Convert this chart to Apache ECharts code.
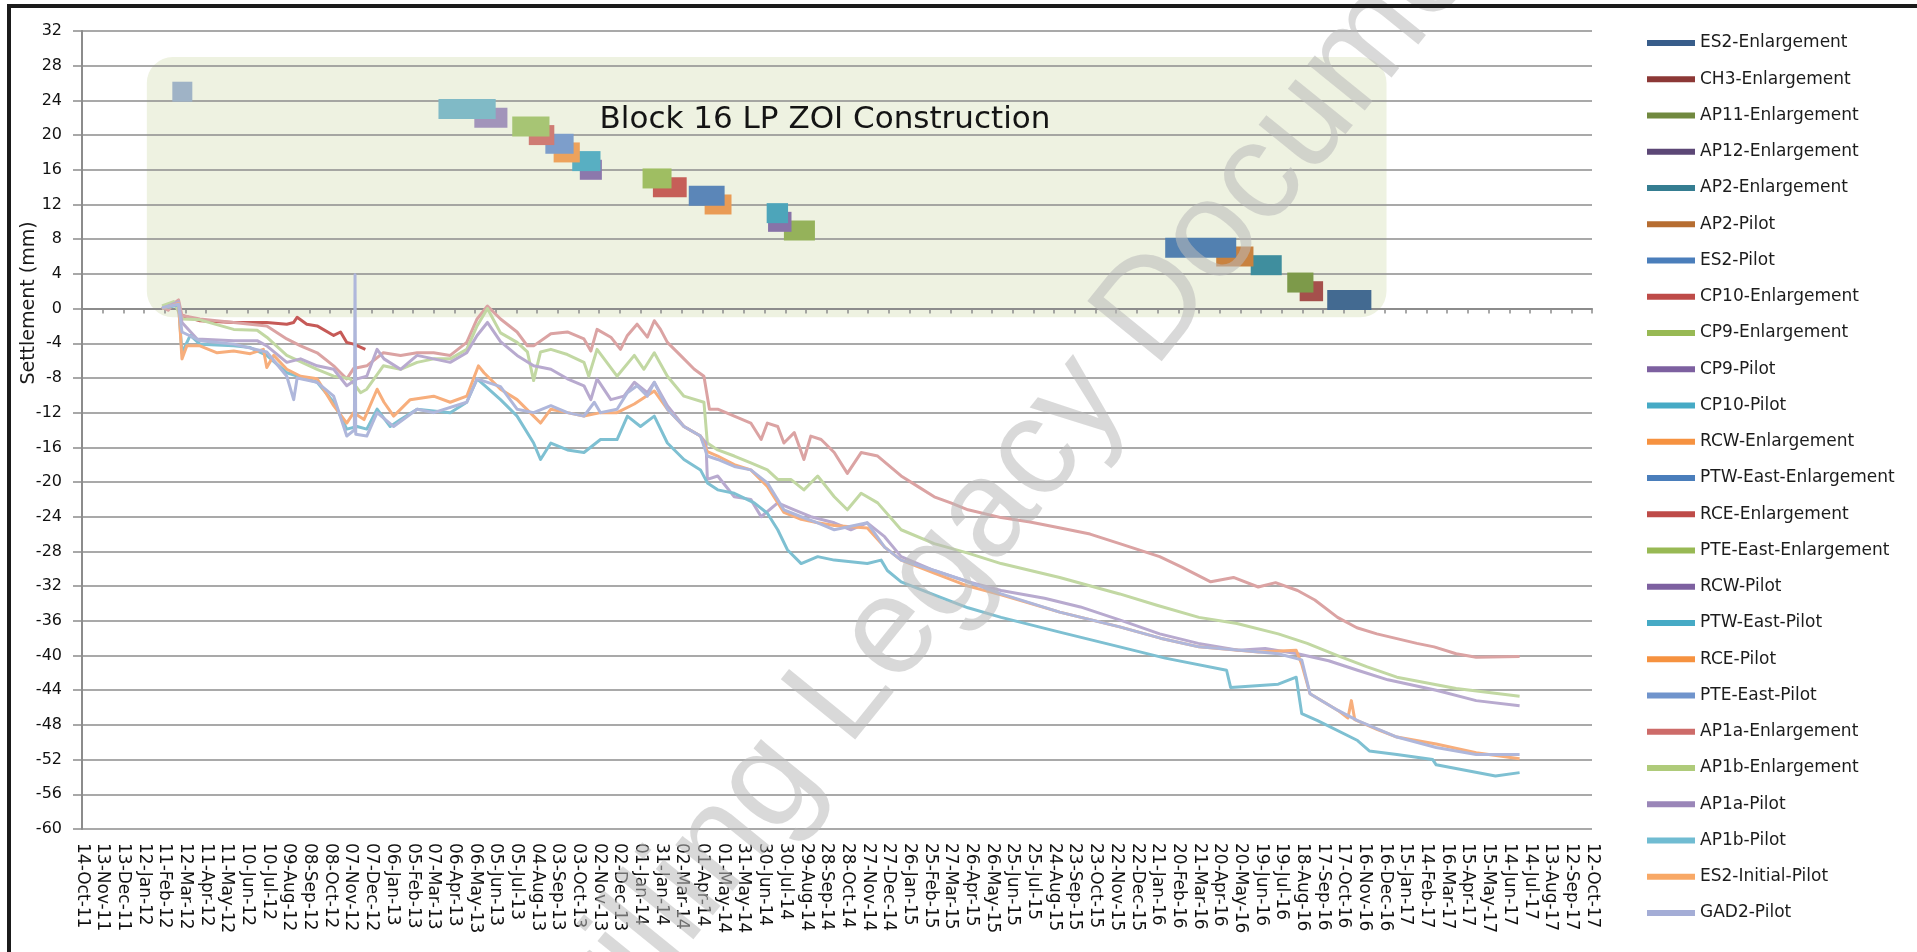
<!DOCTYPE html>
<html><head><meta charset="utf-8">
<script src="https://cdn.jsdelivr.net/npm/echarts@6/dist/echarts.min.js"></script>
<style>html,body{margin:0;padding:0;background:#fff}#chart{width:1917px;height:952px}</style>
</head><body><div id="chart"></div>
<script>
// ---------------- DATA ----------------
const seriesNames = ['ES2-Enlargement','CH3-Enlargement','AP11-Enlargement','AP12-Enlargement','AP2-Enlargement','AP2-Pilot','ES2-Pilot','CP10-Enlargement','CP9-Enlargement','CP9-Pilot','CP10-Pilot','RCW-Enlargement','PTW-East-Enlargement','RCE-Enlargement','PTE-East-Enlargement','RCW-Pilot','PTW-East-Pilot','RCE-Pilot','PTE-East-Pilot','AP1a-Enlargement','AP1b-Enlargement','AP1a-Pilot','AP1b-Pilot','ES2-Initial-Pilot','GAD2-Pilot'];

const xTickLabels = ['14-Oct-11','13-Nov-11','13-Dec-11','12-Jan-12','11-Feb-12','12-Mar-12','11-Apr-12','11-May-12','10-Jun-12','10-Jul-12','09-Aug-12','08-Sep-12','08-Oct-12','07-Nov-12','07-Dec-12','06-Jan-13','05-Feb-13','07-Mar-13','06-Apr-13','06-May-13','05-Jun-13','05-Jul-13','04-Aug-13','03-Sep-13','03-Oct-13','02-Nov-13','02-Dec-13','01-Jan-14','31-Jan-14','02-Mar-14','01-Apr-14','01-May-14','31-May-14','30-Jun-14','30-Jul-14','29-Aug-14','28-Sep-14','28-Oct-14','27-Nov-14','27-Dec-14','26-Jan-15','25-Feb-15','27-Mar-15','26-Apr-15','26-May-15','25-Jun-15','25-Jul-15','24-Aug-15','23-Sep-15','23-Oct-15','22-Nov-15','22-Dec-15','21-Jan-16','20-Feb-16','21-Mar-16','20-Apr-16','20-May-16','19-Jun-16','19-Jul-16','18-Aug-16','17-Sep-16','17-Oct-16','16-Nov-16','16-Dec-16','15-Jan-17','14-Feb-17','16-Mar-17','15-Apr-17','15-May-17','14-Jun-17','14-Jul-17','13-Aug-17','12-Sep-17','12-Oct-17'];

const yTicks = {min: -60, max: 32, step: 4};

// construction periods (one per series, null = none)
const blockStart = ['2016-09-23','2016-08-14','2016-07-27',null,'2016-06-04','2016-04-15','2016-02-01',null,'2014-07-28','2014-07-05','2014-07-03','2014-04-04','2014-03-12','2014-01-19','2014-01-04','2013-10-05','2013-09-24','2013-08-28','2013-08-16','2013-07-23','2013-06-29','2013-05-05','2013-03-14',null,'2012-02-22'];
const blockEnd   = ['2016-11-26','2016-09-17','2016-09-03',null,'2016-07-19','2016-06-08','2016-05-14',null,'2014-09-11','2014-08-08','2014-08-03','2014-05-13','2014-05-03','2014-03-09','2014-02-15','2013-11-06','2013-11-04','2013-10-05','2013-09-26','2013-08-29','2013-08-22','2013-06-22','2013-06-05',null,'2012-03-22'];
const blockLevel = [1,2,3,null,5,6,7,null,9,10,11,12,13,14,15,16,17,18,19,20,21,22,23,null,25];

// settlement readings [date, mm]
const ap1aEnlargement = [['2012-02-07',0.2],['2012-02-16',-0.2],['2012-02-24',0.6],['2012-03-02',1.0],['2012-03-07',-0.8],['2012-04-02',-1.2],['2012-05-21',-1.6],['2012-07-08',-2.0],['2012-08-06',-3.5],['2012-08-26',-4.3],['2012-09-19',-5.1],['2012-10-13',-6.6],['2012-10-23',-7.4],['2012-11-01',-8.1],['2012-11-11',-6.9],['2012-11-30',-6.6],['2012-12-24',-5.1],['2013-01-18',-5.4],['2013-02-11',-5.1],['2013-03-07',-5.1],['2013-03-31',-5.4],['2013-04-24',-3.9],['2013-05-09',-1.2],['2013-05-24',0.3],['2013-06-12',-1.2],['2013-07-06',-2.7],['2013-07-21',-4.3],['2013-07-30',-4.3],['2013-08-24',-2.9],['2013-09-17',-2.7],['2013-10-11',-3.5],['2013-10-21',-4.9],['2013-10-30',-2.4],['2013-11-19',-3.3],['2013-12-03',-4.7],['2013-12-13',-3.1],['2013-12-27',-1.8],['2014-01-11',-3.3],['2014-01-21',-1.4],['2014-01-30',-2.4],['2014-02-09',-3.9],['2014-02-28',-5.4],['2014-03-20',-7.0],['2014-04-03',-7.8],['2014-04-11',-11.6],['2014-04-23',-11.6],['2014-05-17',-12.4],['2014-06-10',-13.2],['2014-06-25',-15.1],['2014-07-04',-13.2],['2014-07-19',-13.6],['2014-07-28',-15.5],['2014-08-12',-14.3],['2014-08-26',-17.4],['2014-09-05',-14.7],['2014-09-20',-15.1],['2014-10-09',-16.6],['2014-10-28',-19.0],['2014-11-17',-16.6],['2014-12-11',-17.0],['2015-01-14',-19.3],['2015-02-07',-20.5],['2015-03-03',-21.7],['2015-03-27',-22.4],['2015-04-21',-23.2],['2015-06-08',-24.1],['2015-07-20',-24.6],['2015-09-02',-25.3],['2015-10-15',-26.0],['2015-11-27',-27.1],['2016-01-24',-28.6],['2016-02-25',-29.8],['2016-04-07',-31.5],['2016-05-10',-31.0],['2016-06-15',-32.1],['2016-07-10',-31.6],['2016-08-11',-32.5],['2016-09-05',-33.6],['2016-10-08',-35.6],['2016-11-05',-36.8],['2016-12-04',-37.5],['2017-01-31',-38.6],['2017-02-25',-39.0],['2017-03-29',-39.8],['2017-04-27',-40.2],['2017-06-29',-40.1]];

const ap1bEnlargement = [['2012-02-07',0.3],['2012-02-24',0.8],['2012-03-07',-1.2],['2012-04-02',-1.3],['2012-05-21',-2.4],['2012-06-24',-2.5],['2012-07-08',-3.3],['2012-08-06',-5.4],['2012-09-19',-7.0],['2012-10-13',-7.8],['2012-11-06',-8.1],['2012-11-21',-9.7],['2012-11-30',-9.3],['2012-12-24',-6.6],['2013-01-18',-7.0],['2013-02-11',-6.2],['2013-03-07',-5.8],['2013-03-31',-5.8],['2013-04-24',-4.7],['2013-05-09',-2.0],['2013-05-24',0.0],['2013-06-12',-2.8],['2013-07-06',-3.9],['2013-07-21',-5.0],['2013-07-30',-8.3],['2013-08-09',-5.0],['2013-08-24',-4.7],['2013-09-17',-5.3],['2013-10-11',-6.2],['2013-10-18',-7.8],['2013-10-30',-4.7],['2013-11-28',-7.8],['2013-12-23',-5.4],['2014-01-06',-7.0],['2014-01-21',-5.1],['2014-02-09',-7.8],['2014-03-05',-10.1],['2014-04-03',-10.8],['2014-04-08',-15.5],['2014-04-23',-16.3],['2014-05-17',-17.0],['2014-06-10',-17.8],['2014-07-04',-18.6],['2014-07-19',-19.7],['2014-08-07',-19.7],['2014-08-26',-20.9],['2014-09-15',-19.3],['2014-10-09',-21.7],['2014-10-28',-23.2],['2014-11-17',-21.3],['2014-12-11',-22.4],['2015-01-14',-25.5],['2015-03-03',-27.1],['2015-04-21',-28.2],['2015-06-08',-29.4],['2015-09-01',-31.0],['2015-11-27',-32.9],['2016-01-20',-34.2],['2016-03-21',-35.6],['2016-05-15',-36.3],['2016-07-14',-37.5],['2016-08-25',-38.6],['2016-10-08',-40.0],['2016-11-20',-41.3],['2017-01-02',-42.5],['2017-03-29',-43.8],['2017-06-29',-44.7]];

const ap1aPilot = [['2012-02-07',0.0],['2012-03-02',0.8],['2012-03-07',-1.6],['2012-03-29',-3.5],['2012-05-21',-3.7],['2012-06-24',-3.7],['2012-07-08',-4.3],['2012-08-06',-6.2],['2012-08-26',-5.8],['2012-09-19',-6.6],['2012-10-13',-7.0],['2012-11-01',-8.9],['2012-11-16',-8.1],['2012-11-30',-7.8],['2012-12-15',-4.7],['2012-12-25',-5.8],['2013-01-18',-7.0],['2013-02-11',-5.4],['2013-03-07',-5.8],['2013-03-31',-6.2],['2013-04-24',-5.1],['2013-05-09',-3.1],['2013-05-24',-1.6],['2013-06-12',-3.8],['2013-07-06',-5.4],['2013-07-30',-6.6],['2013-08-24',-7.0],['2013-09-17',-8.1],['2013-10-11',-8.9],['2013-10-21',-10.5],['2013-10-30',-8.1],['2013-11-19',-10.5],['2013-12-08',-10.1],['2013-12-23',-8.5],['2014-01-11',-9.7],['2014-01-21',-8.5],['2014-02-09',-11.2],['2014-03-05',-13.6],['2014-03-29',-14.7],['2014-04-06',-15.5],['2014-04-08',-19.7],['2014-04-23',-19.3],['2014-05-17',-21.7],['2014-06-10',-22.0],['2014-06-25',-24.0],['2014-07-19',-22.4],['2014-08-12',-23.2],['2014-09-05',-24.0],['2014-10-09',-24.7],['2014-11-02',-25.5],['2014-11-26',-24.7],['2014-12-21',-26.3],['2015-01-14',-28.6],['2015-03-03',-30.2],['2015-04-21',-31.5],['2015-06-08',-32.5],['2015-08-10',-33.4],['2015-10-01',-34.4],['2015-12-01',-36.0],['2016-01-24',-37.5],['2016-03-20',-38.6],['2016-05-17',-39.4],['2016-06-25',-39.2],['2016-08-11',-39.8],['2016-09-25',-40.6],['2016-11-06',-41.7],['2016-12-20',-42.8],['2017-02-28',-44.0],['2017-04-27',-45.2],['2017-06-29',-45.8]];

const ap1bPilot = [['2012-02-07',0.0],['2012-03-02',0.4],['2012-03-07',-5.1],['2012-03-19',-3.1],['2012-04-02',-4.1],['2012-05-21',-4.3],['2012-06-14',-4.5],['2012-07-08',-5.4],['2012-08-06',-7.4],['2012-09-19',-8.5],['2012-10-13',-10.8],['2012-11-01',-13.9],['2012-11-16',-13.6],['2012-11-30',-13.9],['2012-12-15',-11.6],['2013-01-03',-13.6],['2013-01-18',-12.8],['2013-02-11',-11.6],['2013-03-31',-12.0],['2013-04-24',-10.8],['2013-05-09',-8.1],['2013-05-19',-8.8],['2013-06-12',-10.5],['2013-07-06',-12.4],['2013-07-30',-15.5],['2013-08-09',-17.4],['2013-08-24',-15.5],['2013-09-17',-16.3],['2013-10-11',-16.6],['2013-11-04',-15.1],['2013-11-28',-15.1],['2013-12-13',-12.4],['2014-01-01',-13.6],['2014-01-21',-12.4],['2014-02-09',-15.5],['2014-03-05',-17.4],['2014-03-29',-18.6],['2014-04-08',-20.1],['2014-04-23',-20.9],['2014-05-17',-21.3],['2014-06-15',-22.4],['2014-07-04',-23.6],['2014-07-19',-25.5],['2014-08-02',-27.8],['2014-08-22',-29.4],['2014-09-15',-28.6],['2014-10-09',-29.0],['2014-11-26',-29.4],['2014-12-16',-29.0],['2014-12-25',-30.2],['2015-01-14',-31.5],['2015-03-03',-33.0],['2015-04-21',-34.5],['2015-06-08',-35.6],['2015-09-01',-37.3],['2015-11-27',-39.0],['2016-02-01',-40.3],['2016-04-30',-41.7],['2016-05-06',-43.7],['2016-07-14',-43.3],['2016-08-09',-42.5],['2016-08-17',-46.7],['2016-09-09',-47.5],['2016-11-06',-49.8],['2016-11-23',-51.0],['2017-01-02',-51.4],['2017-02-23',-52.0],['2017-02-28',-52.6],['2017-05-25',-53.9],['2017-06-29',-53.5]];

const es2InitialPilot = [['2012-02-07',0.0],['2012-03-02',0.6],['2012-03-07',-5.8],['2012-03-14',-4.3],['2012-04-02',-4.3],['2012-04-27',-5.1],['2012-05-21',-4.9],['2012-06-14',-5.2],['2012-07-03',-4.7],['2012-07-08',-6.8],['2012-07-18',-5.4],['2012-08-06',-7.0],['2012-08-26',-7.8],['2012-09-19',-8.1],['2012-10-13',-11.2],['2012-11-01',-13.2],['2012-11-11',-12.0],['2012-11-26',-12.8],['2012-12-15',-9.3],['2012-12-25',-10.8],['2013-01-08',-12.4],['2013-02-01',-10.5],['2013-03-07',-10.1],['2013-03-31',-10.8],['2013-04-24',-10.1],['2013-05-11',-6.6],['2013-05-19',-7.4],['2013-06-12',-9.3],['2013-07-06',-10.5],['2013-07-30',-12.4],['2013-08-09',-13.2],['2013-08-24',-11.6],['2013-09-17',-12.0],['2013-10-11',-12.4],['2013-11-04',-12.0],['2013-11-28',-12.0],['2013-12-23',-11.0],['2014-01-21',-9.5],['2014-02-09',-11.6],['2014-03-05',-13.6],['2014-03-29',-14.7],['2014-04-08',-16.5],['2014-04-23',-17.0],['2014-05-17',-18.0],['2014-06-10',-18.6],['2014-07-04',-20.5],['2014-07-28',-23.5],['2014-08-22',-24.3],['2014-09-15',-24.7],['2014-10-09',-25.0],['2014-11-26',-25.3],['2014-12-21',-27.5],['2015-01-14',-29.0],['2015-03-03',-30.5],['2015-04-21',-32.0],['2015-06-08',-33.0],['2015-09-01',-35.0],['2015-11-27',-36.7],['2016-01-25',-38.0],['2016-03-21',-39.0],['2016-06-15',-39.6],['2016-08-09',-39.4],['2016-08-17',-41.0],['2016-08-29',-44.4],['2016-10-08',-46.3],['2016-10-23',-47.2],['2016-10-28',-45.2],['2016-11-02',-47.4],['2016-12-04',-48.5],['2017-01-02',-49.4],['2017-02-28',-50.2],['2017-04-27',-51.2],['2017-06-29',-51.9]];

const gad2Pilot = [['2012-02-07',0.1],['2012-03-02',0.5],['2012-03-07',-2.7],['2012-04-02',-3.7],['2012-05-21',-4.1],['2012-07-08',-5.0],['2012-08-06',-7.8],['2012-08-16',-10.5],['2012-08-21',-8.0],['2012-09-19',-8.5],['2012-10-13',-10.1],['2012-11-01',-14.7],['2012-11-12',-14.0],['2012-11-13',3.9],['2012-11-14',-14.5],['2012-11-30',-14.7],['2012-12-15',-12.0],['2013-01-08',-13.6],['2013-02-11',-11.6],['2013-03-07',-12.0],['2013-04-24',-10.8],['2013-05-09',-8.1],['2013-06-12',-9.0],['2013-07-06',-11.6],['2013-07-30',-12.0],['2013-08-24',-11.2],['2013-09-17',-12.0],['2013-10-11',-12.4],['2013-10-26',-10.8],['2013-11-04',-12.0],['2013-11-28',-11.6],['2013-12-13',-9.7],['2013-12-27',-8.9],['2014-01-11',-10.1],['2014-01-21',-8.5],['2014-02-09',-11.6],['2014-03-05',-13.6],['2014-03-29',-14.7],['2014-04-08',-17.0],['2014-04-23',-17.4],['2014-05-17',-18.2],['2014-06-10',-18.6],['2014-07-04',-20.1],['2014-07-28',-23.2],['2014-08-22',-24.0],['2014-09-15',-24.7],['2014-10-09',-25.5],['2014-11-26',-24.7],['2014-12-21',-27.5],['2015-01-14',-29.0],['2015-03-03',-30.2],['2015-04-21',-31.5],['2015-06-08',-32.9],['2015-09-01',-35.0],['2015-11-27',-36.7],['2016-01-25',-38.0],['2016-03-21',-39.0],['2016-05-20',-39.4],['2016-07-14',-39.8],['2016-08-17',-40.5],['2016-08-29',-44.4],['2016-10-08',-46.3],['2016-11-06',-47.5],['2017-01-02',-49.4],['2017-02-28',-50.6],['2017-04-27',-51.4],['2017-06-29',-51.4]];

const cp10Enlargement = [['2012-03-07',-0.8],['2012-04-02',-1.4],['2012-05-21',-1.6],['2012-07-08',-1.6],['2012-08-06',-1.8],['2012-08-16',-1.6],['2012-08-21',-1.0],['2012-09-04',-1.8],['2012-09-19',-2.0],['2012-10-13',-3.1],['2012-10-23',-2.7],['2012-11-01',-3.9],['2012-11-11',-4.1],['2012-11-28',-4.7]];

const settlementSeries = [
  ['CP10-Enlargement', cp10Enlargement],
  ['AP1a-Enlargement', ap1aEnlargement],
  ['AP1b-Enlargement', ap1bEnlargement],
  ['AP1a-Pilot', ap1aPilot],
  ['AP1b-Pilot', ap1bPilot],
  ['ES2-Initial-Pilot', es2InitialPilot],
  ['GAD2-Pilot', gad2Pilot]
];

// annotation box (data space)
const zoiBox = {from: '2012-01-16', to: '2016-12-18', top: 29, bottom: -1};

// ---------------- STYLE ----------------
const legendColors = ['#385D8A','#8C3836','#71893F','#5C4776','#357D91','#B66D31','#4A7EBB','#BE4B48','#98B954','#7D60A0','#46AAC5','#F69240','#4A7EBB','#BE4B48','#98B954','#7D60A0','#46AAC5','#F69240','#7094CC','#CD6B69','#AFCB7A','#9A86B8','#70BCD2','#F8A866','#A4ADD6'];
const blockColors = ['#436A91','#A5504C','#7D9A4A','#6A5A88','#3F8E9E','#C9823F','#5280B0','#C65F58','#95B25A','#8873A8','#4DA5BA','#E99B55','#5B86B8','#C65F58','#9FBE62','#8C78AC','#58AFC2','#EDA25C','#7D9ECB','#CF7C74','#A7C574','#A294BA','#80BAC6','#F2B07A','#9FB3C6'];
const lineColors = {'CP10-Enlargement':'#C65A57','AP1a-Enlargement':'#DBA3A3','AP1b-Enlargement':'#C2D8A3','AP1a-Pilot':'#B8AACF','AP1b-Pilot':'#7EC0D2','ES2-Initial-Pilot':'#F7AE7C','GAD2-Pilot':'#AFB7DB'};

const ORIGIN = Date.UTC(2011, 9, 14);
function d2x(s) { const p = s.split('-').map(Number); return (Date.UTC(p[0], p[1]-1, p[2]) - ORIGIN) / 864e5; }
const STEP = 30;
const XMAX = (xTickLabels.length - 1) * STEP;

const series = [];
settlementSeries.forEach(([name, arr]) => {
  series.push({
    name, type: 'line', symbol: 'none', silent: true, z: 2,
    data: arr.map(([d, v]) => [d2x(d), v]),
    lineStyle: {width: 3, color: lineColors[name], join: 'round'},
    itemStyle: {color: lineColors[name]}
  });
});
seriesNames.forEach((name, i) => {
  if (blockStart[i]) {
    series.push({
      name, type: 'line', symbol: 'none', silent: true, z: 3,
      data: [[d2x(blockStart[i]), blockLevel[i]], [d2x(blockEnd[i]), blockLevel[i]]],
      lineStyle: {width: 20, color: blockColors[i], cap: 'butt'},
      itemStyle: {color: legendColors[i]}
    });
  } else if (!settlementSeries.some(s => s[0] === name)) {
    series.push({name, type: 'line', symbol: 'none', data: []});
  }
});

const chart = echarts.init(document.getElementById('chart'));
const gridColor = '#8C8C8C';
chart.setOption({
  animation: false,
  backgroundColor: '#ffffff',
  grid: {left: 82, right: 325, top: 31, bottom: 123, containLabel: false},
  legend: {
    orient: 'vertical', left: 1642, top: 29, itemWidth: 48, itemHeight: 6, itemGap: 18.25,
    icon: 'rect', selectedMode: false,
    textStyle: {fontFamily: 'DejaVu Sans', fontSize: 17, color: '#1c1c1c', lineHeight: 18},
    data: seriesNames.map((n, i) => ({name: n, itemStyle: {color: legendColors[i], borderWidth: 0}}))
  },
  xAxis: [
    {type: 'value', min: 0, max: XMAX, interval: STEP, position: 'bottom',
     axisLine: {show: false, onZero: false}, axisTick: {show: false}, splitLine: {show: false},
     axisLabel: {rotate: -90, margin: 14, fontFamily: 'DejaVu Sans', fontSize: 17, color: '#111',
       formatter: v => xTickLabels[Math.round(v / STEP)] || ''}},
    {type: 'value', min: 0, max: XMAX, interval: STEP, position: 'bottom',
     axisLine: {show: true, onZero: true, lineStyle: {color: gridColor, width: 2}},
     axisTick: {show: true, length: 5, lineStyle: {color: gridColor, width: 1.5}},
     axisLabel: {show: false}, splitLine: {show: false}}
  ],
  yAxis: {
    type: 'value', min: yTicks.min, max: yTicks.max, interval: yTicks.step,
    axisLine: {show: true, onZero: false, lineStyle: {color: gridColor, width: 2}},
    axisTick: {show: true, length: 9, lineStyle: {color: gridColor, width: 1.5}},
    splitLine: {show: true, lineStyle: {color: gridColor, width: 1.6}},
    axisLabel: {margin: 20, fontFamily: 'DejaVu Sans', fontSize: 16, color: '#111'}
  },
  series
});

// decorations placed from data coordinates
const p1 = chart.convertToPixel({gridIndex: 0}, [d2x(zoiBox.from), zoiBox.top]);
const p2 = chart.convertToPixel({gridIndex: 0}, [d2x(zoiBox.to), zoiBox.bottom]);
chart.setOption({
  graphic: [
    {type: 'rect', z: -10, silent: true,
     shape: {x: p1[0], y: p1[1], width: p2[0] - p1[0], height: p2[1] - p1[1], r: 26},
     style: {fill: '#EEF2E1'}},
    {type: 'text', z: 50, x: 825, y: 120, silent: true,
     style: {text: 'Block 16 LP ZOI Construction', font: '31px "DejaVu Sans"', fill: '#141414', textAlign: 'center', textVerticalAlign: 'middle'}},
    {type: 'text', z: 50, x: 29, y: 303, rotation: Math.PI / 2, silent: true,
     style: {text: 'Settlement (mm)', font: '19px "DejaVu Sans"', fill: '#1a1a1a', textAlign: 'center', textVerticalAlign: 'middle'}},
    {type: 'text', z: 60, x: 1025, y: 469, rotation: 0.89, silent: true,
     style: {text: 'Drilling Legacy Document', font: '139px "Liberation Sans"', fill: 'rgba(185,185,185,0.55)', textAlign: 'center', textVerticalAlign: 'middle'}},
    {type: 'rect', z: 70, silent: true, shape: {x: 7, y: 4, width: 1910, height: 4}, style: {fill: '#1b1b1b'}},
    {type: 'rect', z: 70, silent: true, shape: {x: 7, y: 4, width: 4, height: 948}, style: {fill: '#1b1b1b'}}
  ]
});
</script>
</body></html>
